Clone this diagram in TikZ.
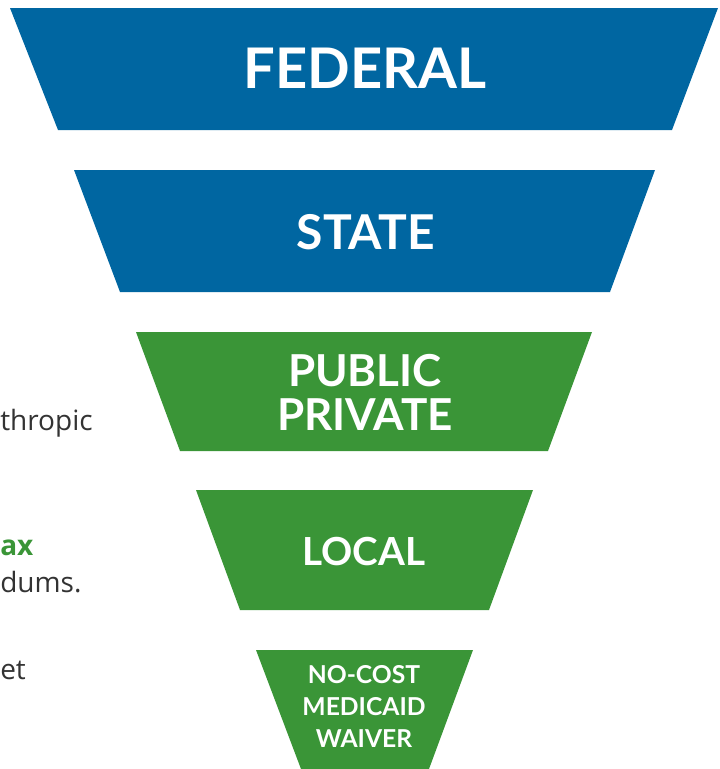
\documentclass[tikz,border=0pt]{standalone}
\usepackage{fontspec}
\setmainfont{Open Sans}
\newfontfamily\headfont{Lato}
\usepackage{xcolor}
\definecolor{fedblue}{RGB}{0,102,161}
\definecolor{tiergreen}{RGB}{58,149,55}
\definecolor{bodygray}{RGB}{51,51,51}

\begin{document}
\begin{tikzpicture}[x=0.75pt,y=-0.75pt,
    tierlabel/.style={text=white,font=\headfont\bfseries,align=center,inner sep=0pt},
    sidetext/.style={anchor=base west,inner sep=0pt,text=bodygray,font=\fontsize{21}{24}\selectfont}]
        \useasboundingbox (0,0) rectangle (720,769);
        % tiers of the funnel
        \fill[fedblue] (10,8) -- (718,8) -- (672,130) -- (58,130) -- cycle;
        \fill[fedblue] (74,170) -- (655,170) -- (610,292) -- (120,292) -- cycle;
        \fill[tiergreen] (136,332) -- (592,332) -- (548,451) -- (180,451) -- cycle;
        \fill[tiergreen] (196,490) -- (533,490) -- (489,610) -- (240,610) -- cycle;
        \fill[tiergreen] (256,650) -- (473,650) -- (429,769) -- (301,769) -- cycle;
        \node[tierlabel,font=\headfont\bfseries\fontsize{42}{46}\selectfont] (federal) at (365,68) {FEDERAL};
        \node[tierlabel,font=\headfont\bfseries\fontsize{36}{40}\selectfont] (state) at (366,232) {STATE};
        \node[tierlabel,font=\headfont\bfseries\fontsize{33}{33}\selectfont] (pubpriv) at (365,392) {PUBLIC\\PRIVATE};
        \node[tierlabel,font=\headfont\bfseries\fontsize{29}{34}\selectfont] (local) at (364,552) {LOCAL};
        \node[tierlabel,font=\headfont\bfseries\fontsize{18.5}{24}\selectfont] (waiver) at (364,706) {NO-COST\\MEDICAID\\WAIVER};
        % cut-off text on the left
        \node[sidetext] (philan) at (0,430) {thropic};
        \node[sidetext,text=tiergreen,font=\bfseries\fontsize{21}{24}\selectfont] (tax) at (0,555) {ax};
        \node[sidetext] (refer) at (0,592) {dums.};
        \node[sidetext] (budget) at (0,679) {et};
    \end{tikzpicture}
\end{document}
